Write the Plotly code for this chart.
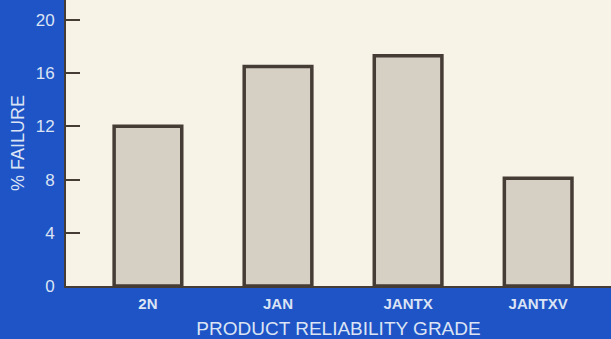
import plotly.graph_objects as go

categories = ["2N", "JAN", "JANTX", "JANTXV"]
failure_pct = [12.0, 16.5, 17.3, 8.1]
y_ticks = [0, 4, 8, 12, 16, 20]

BLUE = "#1f54c6"
CREAM = "#f7f3e7"
BAR = "#d5cfc4"
DARK = "#463c36"
TEXT = "#dbe4f4"
FONT = "Liberation Sans"

fig = go.Figure(go.Bar(
    x=categories, y=failure_pct, width=0.52,
    marker=dict(color=BAR, line=dict(color=DARK, width=3.5)),
))

fig.update_layout(
    width=611, height=339,
    margin=dict(l=66, r=0, t=0, b=53),
    paper_bgcolor=BLUE, plot_bgcolor=CREAM,
    showlegend=False,
    font=dict(family=FONT, color=TEXT),
)
fig.update_xaxes(
    range=[-0.63, 3.56], showgrid=False, zeroline=False,
    showline=True, linecolor=DARK, linewidth=2,
    ticks="", ticklabelstandoff=3,
    tickfont=dict(size=15, color=TEXT, weight="bold"),
    title=dict(text="PRODUCT RELIABILITY GRADE", font=dict(size=19, color=TEXT), standoff=12),
)
fig.update_yaxes(
    range=[0, 21.5], showgrid=False, zeroline=False,
    showline=True, linecolor=DARK, linewidth=2,
    tickvals=y_ticks, ticks="inside", ticklen=14, tickwidth=2, tickcolor=DARK,
    ticklabelstandoff=6,
    tickfont=dict(size=17, color=TEXT),
    title=dict(text="% FAILURE", font=dict(size=18, color=TEXT), standoff=6),
)

fig.write_html("out.html", config={"displayModeBar": False},
               post_script="document.body.style.margin='0';")
